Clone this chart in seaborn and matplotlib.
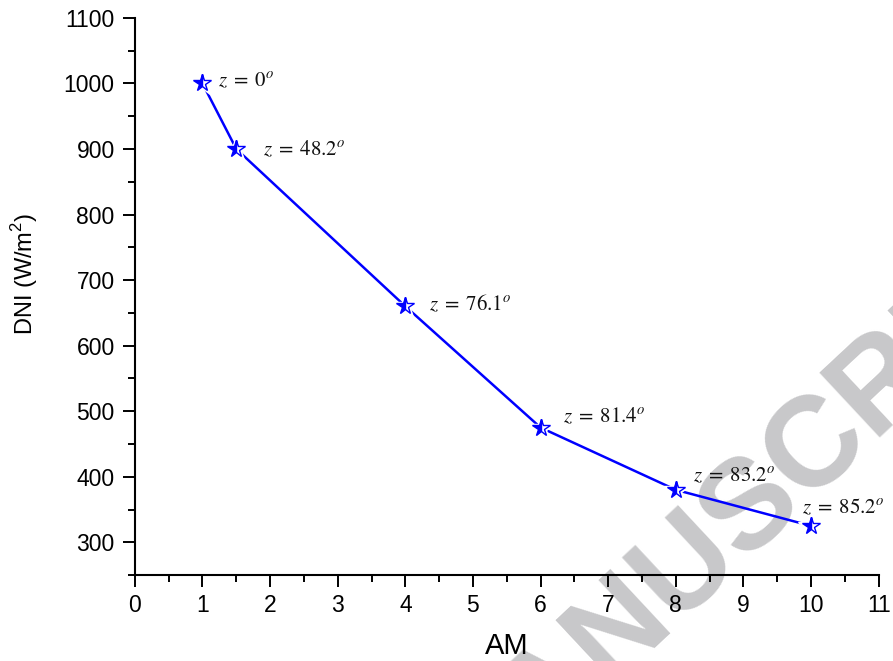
import matplotlib
matplotlib.use("Agg")
import matplotlib.pyplot as plt
from matplotlib.ticker import MultipleLocator
import seaborn as sns
import pandas as pd

# Air mass vs. direct normal irradiance
air_mass = [1, 1.5, 4, 6, 8, 10]
dni = [1000, 900, 660, 475, 380, 325]
zenith_labels = ["0", "48.2", "76.1", "81.4", "83.2", "85.2"]
# label offsets from each point, in pixels (dx, dy)
label_offsets = [(16, 3), (27, 0), (24, 3), (22, 12), (17, 15), (-9, 19)]

sns.set_theme(style="white")
plt.rcParams["font.family"] = ["Liberation Sans", "DejaVu Sans"]
plt.rcParams["mathtext.fontset"] = "custom"
plt.rcParams["mathtext.rm"] = "Liberation Sans"

df = pd.DataFrame({"AM": air_mass, "DNI": dni})

fig = plt.figure(figsize=(8.93, 6.61), dpi=100)

# watermark behind the plot
fig.text(0.842, 0.236, "MANUSCRIPT", fontsize=92, fontweight="bold",
         color="#c8c8ca", rotation=43, ha="center", va="center",
         rotation_mode="anchor", family="Liberation Sans", zorder=-1)

ax = fig.add_axes([0.151, 0.130, 0.833, 0.843])
ax.set_zorder(1)
ax.patch.set_alpha(0)

sns.lineplot(data=df, x="AM", y="DNI", color="blue", linewidth=1.8,
             ax=ax, zorder=2)
# white halo leaves a small gap between line and marker
ax.plot(df["AM"], df["DNI"], linestyle="none", marker="*", markersize=19,
        color="white", zorder=3)
ax.plot(df["AM"], df["DNI"], linestyle="none", marker="*", markersize=13,
        fillstyle="left", color="blue", markerfacecoloralt="white",
        markeredgecolor="blue", markeredgewidth=1.0, zorder=4)

for x, y, lab, (dx, dy) in zip(air_mass, dni, zenith_labels, label_offsets):
    ax.annotate(r"$z\;=\;%s^o$" % lab, xy=(x, y), xytext=(dx, dy),
                textcoords="offset pixels", ha="left", va="center",
                fontsize=15, math_fontfamily="stix", color="#111111",
                zorder=5)

ax.set_xlim(0, 11)
ax.set_ylim(250, 1100)
ax.xaxis.set_major_locator(MultipleLocator(1))
ax.xaxis.set_minor_locator(MultipleLocator(0.5))
ax.yaxis.set_minor_locator(MultipleLocator(50))
ax.set_yticks(range(300, 1101, 100))

for side in ["top", "right"]:
    ax.spines[side].set_visible(False)
for side in ["left", "bottom"]:
    ax.spines[side].set_color("black")
    ax.spines[side].set_linewidth(1.5)

ax.tick_params(which="major", direction="out", length=8.5, width=1.4,
               color="black", left=True, bottom=True, labelsize=16.5,
               labelcolor="black", labelfontfamily="Liberation Sans")
ax.tick_params(which="minor", direction="out", length=5, width=1.4,
               color="black", left=True, bottom=True)
ax.tick_params(axis="x", which="major", pad=5)
ax.tick_params(axis="y", which="major", pad=6)

ax.set_xlabel("AM", fontsize=21, family="Liberation Sans", color="black")
ax.set_ylabel(r"DNI (W/m$^\mathrm{2}$)", fontsize=17, family="Liberation Sans",
              color="black")
ax.xaxis.set_label_coords(0.5, -0.102)
ax.yaxis.set_label_coords(-0.128, 0.54)

fig.savefig("out.png", dpi=100)
